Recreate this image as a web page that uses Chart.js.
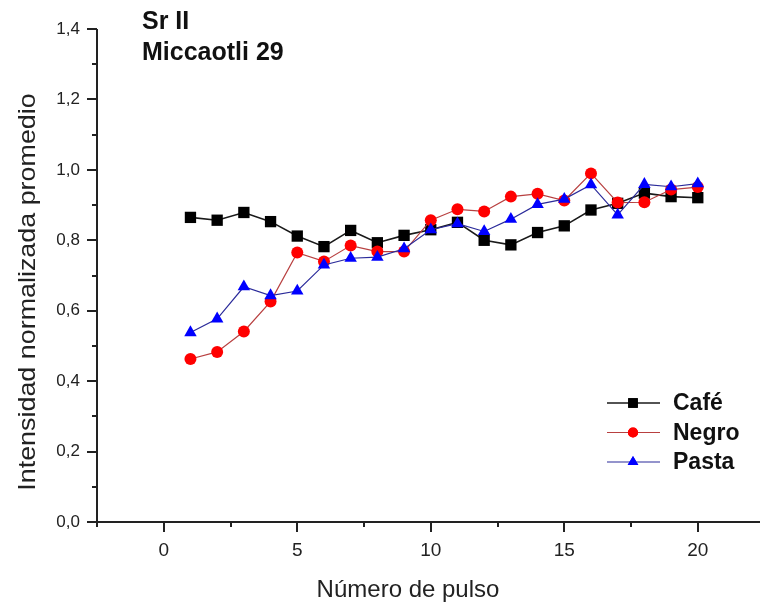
<!DOCTYPE html>
<html>
<head>
<meta charset="utf-8">
<script src="https://cdn.jsdelivr.net/npm/chart.js@4.4.1/dist/chart.umd.min.js"></script>
<style>
  html, body { margin: 0; padding: 0; background: #fff; }
  #wrap { width: 760px; height: 608px; }
</style>
</head>
<body>
<div id="wrap"><canvas id="chart" width="760" height="608"></canvas></div>
<script>
const pulsos = [1, 2, 3, 4, 5, 6, 7, 8, 9, 10, 11, 12, 13, 14, 15, 16, 17, 18, 19, 20];
const cafe  = [0.865, 0.857, 0.879, 0.853, 0.812, 0.782, 0.828, 0.793, 0.814, 0.830, 0.851, 0.800, 0.787, 0.822, 0.841, 0.886, 0.905, 0.934, 0.924, 0.921];
const negro = [0.463, 0.483, 0.541, 0.626, 0.765, 0.740, 0.785, 0.768, 0.768, 0.857, 0.888, 0.882, 0.924, 0.932, 0.913, 0.990, 0.907, 0.908, 0.944, 0.951];
const pasta = [0.538, 0.577, 0.668, 0.643, 0.656, 0.730, 0.749, 0.752, 0.776, 0.830, 0.847, 0.825, 0.860, 0.902, 0.917, 0.958, 0.872, 0.959, 0.952, 0.961];
const xTicks = [0, 5, 10, 15, 20];
const yTicks = [0, 0.2, 0.4, 0.6, 0.8, 1.0, 1.2, 1.4];
const titleLines = ["Sr II", "Miccaotli 29"];

const FONT = "'Liberation Sans', Arial, sans-serif";

function pts(vals) {
    return vals.map((v, i) => ({ x: pulsos[i], y: v }));
}

const series = [
    { label: "Café",  data: cafe,  line: "#1a1a1a", fill: "#000000", style: "rect",     radius: 8,   width: 1.6, order: 3 },
    { label: "Negro", data: negro, line: "#b84040", fill: "#ff0000", style: "circle",   radius: 6,   width: 1.2, order: 2 },
    { label: "Pasta", data: pasta, line: "#2a2a9a", fill: "#0000ff", style: "triangle", radius: 7.2, width: 1.2, order: 1 }
];

// axes, ticks, titles and legend drawn on top of chart.js scales
const decor = {
    id: "decor",
    afterDraw(chart) {
        const ctx = chart.ctx;
        const xs = chart.scales.x, ys = chart.scales.y;
        const area = chart.chartArea;
        ctx.save();
        ctx.strokeStyle = "#222";
        ctx.lineWidth = 2;
        ctx.beginPath();
        ctx.moveTo(area.left, area.top);
        ctx.lineTo(area.left, area.bottom);
        ctx.lineTo(760, area.bottom);
        ctx.stroke();

        for (let v = 0; v <= 1.4001; v += 0.1) {
            const y = Math.round(ys.getPixelForValue(v));
            const major = Math.abs(v * 5 - Math.round(v * 5)) < 1e-6;
            ctx.beginPath();
            ctx.moveTo(area.left, y);
            ctx.lineTo(area.left - (major ? 10 : 5), y);
            ctx.stroke();
        }
        for (let v = -2.5; v <= xs.max; v += 2.5) {
            const x = Math.round(xs.getPixelForValue(v));
            const major = Math.abs(v % 5) < 1e-6;
            ctx.beginPath();
            ctx.moveTo(x, area.bottom);
            ctx.lineTo(x, area.bottom + (major ? 10 : 5));
            ctx.stroke();
        }

        // axis titles
        ctx.fillStyle = "#222";
        ctx.font = "24px " + FONT;
        ctx.textAlign = "center";
        ctx.textBaseline = "alphabetic";
        ctx.fillText("Número de pulso", 408, 597);
        ctx.save();
        ctx.translate(35, 292);
        ctx.rotate(-Math.PI / 2);
        ctx.scale(1.12, 1);
        ctx.fillText("Intensidad normalizada promedio", 0, 0);
        ctx.restore();

        // title block
        ctx.fillStyle = "#111";
        ctx.font = "bold 25px " + FONT;
        ctx.textAlign = "left";
        ctx.fillText(titleLines[0], 142, 29);
        ctx.fillText(titleLines[1], 142, 60);

        // legend
        ctx.font = "bold 23px " + FONT;
        ctx.textBaseline = "middle";
        series.forEach((s, i) => {
            const y = 403 + i * 29.5;
            ctx.strokeStyle = s.line;
            ctx.lineWidth = s.width;
            ctx.beginPath();
            ctx.moveTo(607, y);
            ctx.lineTo(660, y);
            ctx.stroke();
            ctx.fillStyle = s.fill;
            Chart.helpers.drawPoint(ctx, { pointStyle: s.style, radius: s.radius * 0.85, borderWidth: 0 }, 633, y);
            ctx.fill();
            ctx.fillStyle = "#111";
            ctx.fillText(s.label, 673, y + 1);
        });
        ctx.restore();
    }
};

new Chart(document.getElementById("chart"), {
    type: "scatter",
    data: {
        datasets: series.map(s => ({
            label: s.label,
            data: pts(s.data),
            showLine: true,
            borderColor: s.line,
            borderWidth: s.width,
            backgroundColor: s.fill,
            pointBackgroundColor: s.fill,
            pointBorderColor: s.fill,
            pointBorderWidth: 0,
            pointStyle: s.style,
            pointRadius: s.radius,
            pointHoverRadius: s.radius,
            order: s.order,
            clip: false
        }))
    },
    options: {
        responsive: false,
        animation: false,
        events: [],
        layout: { autoPadding: false, padding: { top: 29, right: 0, left: 0, bottom: 0 } },
        plugins: {
            legend: { display: false },
            tooltip: { enabled: false }
        },
        scales: {
            x: {
                type: "linear",
                min: -2.5,
                max: 22.33,
                afterFit(scale) { scale.height = 86; scale.paddingLeft = 0; scale.paddingRight = 0; },
                afterBuildTicks(scale) { scale.ticks = xTicks.map(v => ({ value: v })); },
                grid: { display: false, drawTicks: false },
                border: { display: false },
                ticks: {
                    padding: 17,
                    color: "#222",
                    font: { family: FONT, size: 19 }
                }
            },
            y: {
                min: 0,
                max: 1.4,
                afterFit(scale) { scale.width = 97; scale.paddingTop = 0; scale.paddingBottom = 0; },
                afterBuildTicks(scale) { scale.ticks = yTicks.map(v => ({ value: v })); },
                grid: { display: false, drawTicks: false },
                border: { display: false },
                ticks: {
                    padding: 17,
                    color: "#222",
                    font: { family: FONT, size: 17 },
                    callback: v => v.toFixed(1).replace(".", ",")
                }
            }
        }
    },
    plugins: [decor]
});
</script>
</body>
</html>
